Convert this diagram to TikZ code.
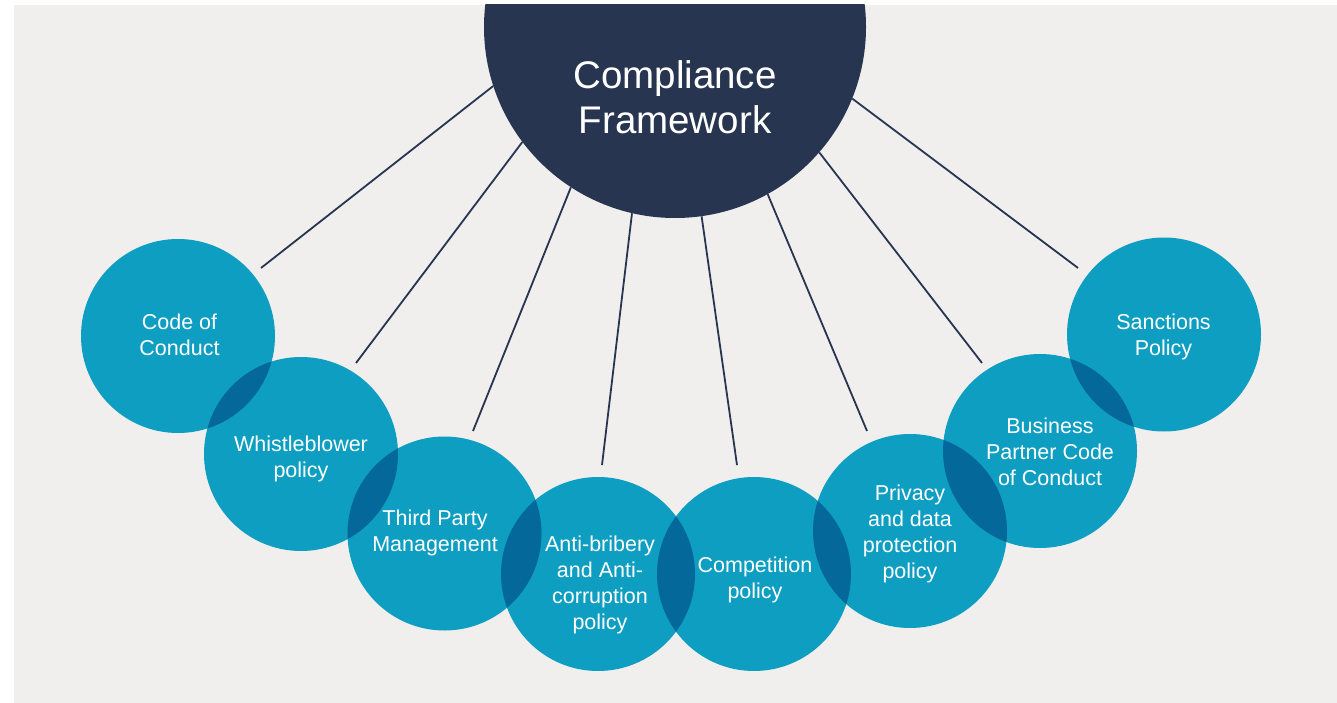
\documentclass[tikz,border=0pt]{standalone}
\usepackage{fontspec}
\setmainfont{Liberation Sans}
\definecolor{bgc}{HTML}{F0EFEE}
\definecolor{navy}{HTML}{283551}
\definecolor{teal}{HTML}{0E9EC1}
\definecolor{lensc}{HTML}{05689A}
\begin{document}
\begin{tikzpicture}[x=1pt,y=-1pt,
  bigc/.style={circle,fill=navy,minimum size=382pt,inner sep=0pt},
  smallc/.style={circle,fill=teal,minimum size=194pt,inner sep=0pt},
  conn/.style={draw=navy,line width=1.8pt},
  lens/.style={fill=lensc},
  lbl/.style={text=white,align=center,inner sep=0pt,font=\fontsize{21.5}{26}\selectfont},
  ttl/.style={text=white,align=center,inner sep=0pt,font=\fontsize{38.5}{45}\selectfont}]
\useasboundingbox (0,0) rectangle (1337,703);
\fill[bgc] (14,5) rectangle (1337,703);
\begin{scope}
\clip (14,5) rectangle (1337,703);
% central circle
\node[bigc] (cf) at (675,27) {};
% small circles
\node[smallc] (c1) at (178,336) {};
\node[smallc] (c2) at (301,454) {};
\node[smallc] (c3) at (444.5,533.5) {};
\node[smallc] (c4) at (598,574) {};
\node[smallc] (c5) at (754,574) {};
\node[smallc] (c6) at (910,531) {};
\node[smallc] (c7) at (1040,451) {};
\node[smallc] (c8) at (1164,334.5) {};
% overlaps
\foreach \a/\b in {c1/c2,c2/c3,c3/c4,c4/c5,c5/c6,c6/c7,c7/c8}{
  \begin{scope}
    \clip (\a) circle[radius=97pt];
    \fill[lens] (\b) circle[radius=97pt];
  \end{scope}
}
% connector free ends
\coordinate (e1) at (261,268);
\coordinate (e2) at (356,363);
\coordinate (e3) at (473,431);
\coordinate (e4) at (602,465);
\coordinate (e5) at (737,465);
\coordinate (e6) at (867,431);
\coordinate (e7) at (982,363);
\coordinate (e8) at (1078,268);
\draw[conn] (cf.198.5) -- (e1);
\draw[conn] (cf.217.8) -- (e2);
\draw[conn] (cf.237.7) -- (e3);
\draw[conn] (cf.257.8) -- (e4);
\draw[conn] (cf.278.7) -- (e5);
\draw[conn] (cf.299) -- (e6);
\draw[conn] (cf.319.4) -- (e7);
\draw[conn] (cf.338.5) -- (e8);
\end{scope}
% labels
\node[ttl] (t0) at (675,97) {Compliance\\Framework};
\node[lbl] (t1) at (179.5,335) {Code of\\Conduct};
\node[lbl] (t2) at (301,459) {Whistleblower\\policy};
\node[lbl] (t3) at (435,533) {Third Party\\Management};
\node[lbl] (t4) at (600,585) {Anti-bribery\\and Anti-\\corruption\\policy};
\node[lbl] (t5) at (755,580) {Competition\\policy};
\node[lbl] (t6) at (910,534) {Privacy\\and data\\protection\\policy};
\node[lbl] (t7) at (1050,451.5) {Business\\Partner Code\\of Conduct};
\node[lbl] (t8) at (1163.5,337) {Sanctions\\Policy};
\end{tikzpicture}
\end{document}
